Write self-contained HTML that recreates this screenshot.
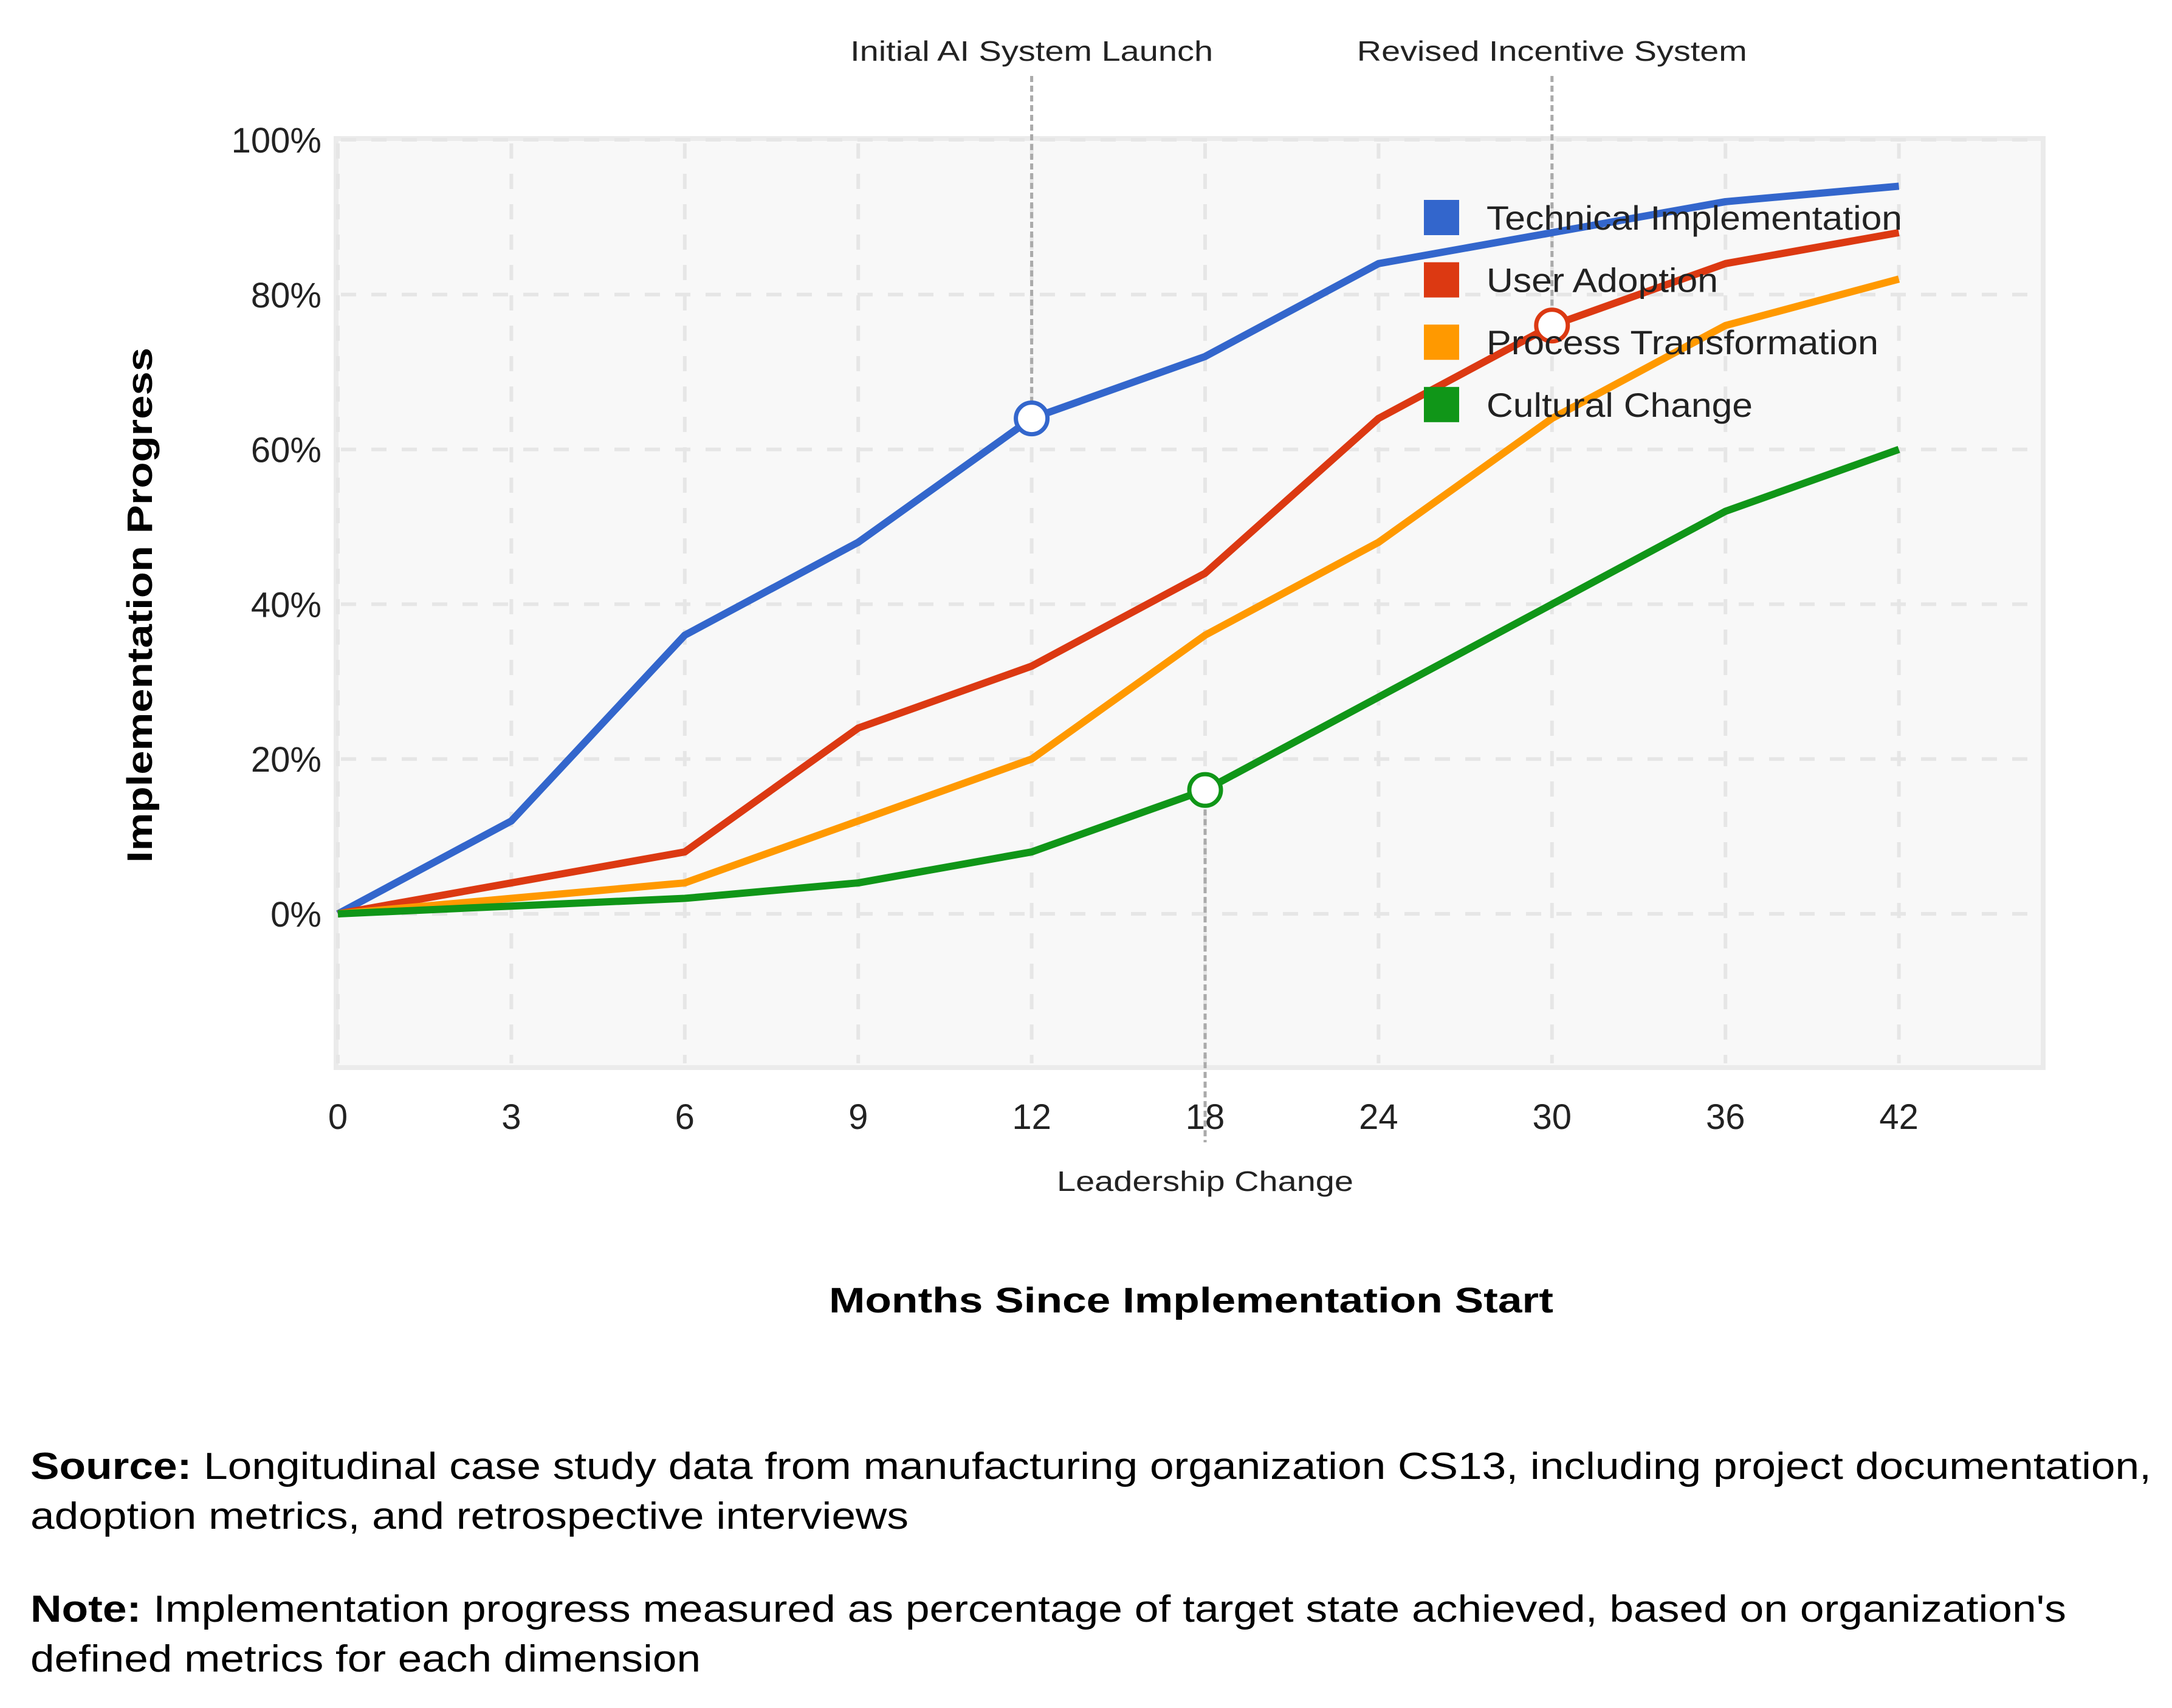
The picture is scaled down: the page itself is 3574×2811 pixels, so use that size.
<!DOCTYPE html>
<html><head><meta charset="utf-8"><style>
html,body{margin:0;padding:0;background:#fff;}
svg{display:block;font-family:"Liberation Sans",Arial,sans-serif;}
</style></head><body>
<svg id="chart" width="3574" height="2811" viewBox="0 0 3574 2811" xmlns="http://www.w3.org/2000/svg">
<rect x="553" y="228" width="2809" height="1529" fill="#f8f8f8" stroke="#ebebeb" stroke-width="8"/>
<g id="grid"></g>
<g id="ticks"></g>
<g id="annos"></g>
<g id="lines"></g>
<g id="marks"></g>
<g id="legend"></g>
<text x="1960" y="2160" font-size="58" font-weight="bold" text-anchor="middle" textLength="1192" lengthAdjust="spacingAndGlyphs">Months Since Implementation Start</text>
<text transform="translate(250,996) rotate(-90)" font-size="58" font-weight="bold" text-anchor="middle" textLength="848" lengthAdjust="spacingAndGlyphs">Implementation Progress</text>
<text x="50" y="2434" font-size="62" textLength="3490" lengthAdjust="spacingAndGlyphs"><tspan font-weight="bold">Source:</tspan> Longitudinal case study data from manufacturing organization CS13, including project documentation,</text>
<text x="50" y="2516" font-size="62" textLength="1445" lengthAdjust="spacingAndGlyphs">adoption metrics, and retrospective interviews</text>
<text x="50" y="2669" font-size="62" textLength="3350" lengthAdjust="spacingAndGlyphs"><tspan font-weight="bold">Note:</tspan> Implementation progress measured as percentage of target state achieved, based on organization's</text>
<text x="50" y="2751" font-size="62" textLength="1103" lengthAdjust="spacingAndGlyphs">defined metrics for each dimension</text>
</svg>
<script>
const months = ["0","3","6","9","12","18","24","30","36","42"];
const yTicks = [0,20,40,60,80,100];
const seriesNames = ["Technical Implementation","User Adoption","Process Transformation","Cultural Change"];
const technical = [0,12,36,48,64,72,84,88,92,94];
const userAdoption = [0,4,8,24,32,44,64,76,84,88];
const processTrans = [0,2,4,12,20,36,48,64,76,82];
const cultural = [0,1,2,4,8,16,28,40,52,60];
const events = ["Initial AI System Launch","Leadership Change","Revised Incentive System"];
const eventIndex = [4,5,7];
const eventSeries = [0,3,1];

const NS="http://www.w3.org/2000/svg";
const colors=["#3366cc","#dc3912","#ff9900","#109618"];
const series=[technical,userAdoption,processTrans,cultural];
const xs=i=>556+i*285.4;
const ys=v=>1504-v*12.74;
function mk(tag,attrs,parent){const e=document.createElementNS(NS,tag);for(const k in attrs)e.setAttribute(k,attrs[k]);parent.appendChild(e);return e;}
const grid=document.getElementById('grid'),ticks=document.getElementById('ticks');
yTicks.forEach(v=>{
  const l=mk('line',{x1:561,x2:3356,y1:ys(v),y2:ys(v),stroke:'#e6e6e6','stroke-width':6,'stroke-dasharray':'25 25'},grid);
  
  
  const t=mk('text',{x:529,y:ys(v)+21,'font-size':58,'text-anchor':'end',fill:'#222'},ticks);
  t.textContent=v+'%';
  
  
});
months.forEach((m,i)=>{
  const l=mk('line',{x1:xs(i),x2:xs(i),y1:236,y2:1750,stroke:'#e6e6e6','stroke-width':6,'stroke-dasharray':'25 25'},grid);
  
  
  const t=mk('text',{x:xs(i),y:1858,'font-size':58,'text-anchor':'middle',fill:'#222'},ticks);
  t.textContent=m;
  
  
});
const annos=document.getElementById('annos');
events.forEach((ev,k)=>{
  const i=eventIndex[k],v=series[eventSeries[k]][i],x=xs(i),y=ys(v);
  const below=k===1;
  const l=mk('line',{x1:x,x2:x,y1:below?y:125,y2:below?1880:y,stroke:'#aaa','stroke-width':5,'stroke-dasharray':'10 6'},annos);
  
  
  const t=mk('text',{x:x,y:below?1960:100,'font-size':46,'text-anchor':'middle',fill:'#222',textLength:below?488:(k===0?597:642),lengthAdjust:'spacingAndGlyphs'},annos);
  t.textContent=ev;
  
  
});
const lines=document.getElementById('lines');
series.forEach((s,j)=>{
  const p=mk('polyline',{points:s.map((v,i)=>xs(i)+','+ys(v)).join(' '),fill:'none',stroke:colors[j],'stroke-width':12,'stroke-linejoin':'round'},lines);
  
  
});
const marks=document.getElementById('marks');
eventIndex.forEach((i,k)=>{
  const j=eventSeries[k];
  const c=mk('circle',{cx:xs(i),cy:ys(series[j][i]),r:26,fill:'#fff',stroke:colors[j],'stroke-width':7},marks);
  
  
});
const legend=document.getElementById('legend');
const legW=[684,381,645,438];
seriesNames.forEach((n,j)=>{
  const cy=358+j*102.6;
  const r=mk('rect',{x:2343,y:cy-29,width:58,height:58,fill:colors[j]},legend);
  
  
  const t=mk('text',{x:2446,y:cy+20,'font-size':56,fill:'#222',textLength:legW[j],lengthAdjust:'spacingAndGlyphs'},legend);
  t.textContent=n;
  
  
});
</script>
</body></html>
